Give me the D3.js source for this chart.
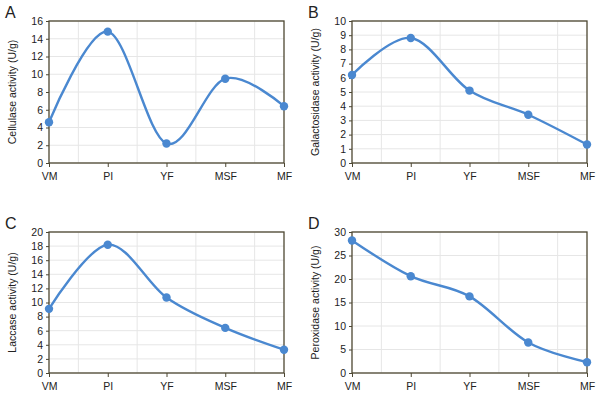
<!DOCTYPE html>
<html><head><meta charset="utf-8">
<script src="https://cdn.jsdelivr.net/npm/d3@7"></script>
<style>body{margin:0;background:#fff}svg{display:block}text{font-family:"Liberation Sans",Arial,sans-serif;fill:#222}</style>
</head><body>
<svg id="c" width="600" height="400"></svg>
<script>
const categories = ["VM","PI","YF","MSF","MF"];
const cellulase = [4.6,14.8,2.2,9.5,6.4];
const galactosidase = [6.2,8.8,5.1,3.4,1.3];
const laccase = [9.1,18.2,10.7,6.4,3.3];
const peroxidase = [28.2,20.6,16.3,6.5,2.3];
const ticksA = [0,2,4,6,8,10,12,14,16];
const ticksB = [0,1,2,3,4,5,6,7,8,9,10];
const ticksC = [0,2,4,6,8,10,12,14,16,18,20];
const ticksD = [0,5,10,15,20,25,30];

const panels = [
  {letter:"A", title:"Cellulase activity (U/g)", values:cellulase, ticks:ticksA, x0:49, x1:284, y0:21, y1:163},
  {letter:"B", title:"Galactosidase activity (U/g)", values:galactosidase, ticks:ticksB, x0:352, x1:587, y0:21, y1:163},
  {letter:"C", title:"Laccase activity (U/g)", values:laccase, ticks:ticksC, x0:49, x1:284, y0:232, y1:373},
  {letter:"D", title:"Peroxidase activity (U/g)", values:peroxidase, ticks:ticksD, x0:352, x1:587, y0:232, y1:373}
];
const svg = d3.select("#c");
const blue = "#4a88d0", border = "#4d4732", grid = "#e6e6e6";

panels.forEach(p => {
  const g = svg.append("g");
  const x = d3.scalePoint().domain(categories).range([p.x0, p.x1]).padding(0);
  const ymax = p.ticks[p.ticks.length-1];
  const y = d3.scaleLinear().domain([0, ymax]).range([p.y1, p.y0]);
  g.selectAll(".hg").data(p.ticks).join("line")
    .attr("x1", p.x0).attr("x2", p.x1).attr("y1", d=>y(d)).attr("y2", d=>y(d))
    .attr("stroke", grid).attr("stroke-width", 1);
  const step = x.step();
  g.selectAll(".vg").data(categories.slice(0,-1)).join("line")
    .attr("x1", d=>x(d)+step/2).attr("x2", d=>x(d)+step/2).attr("y1", p.y0).attr("y2", p.y1)
    .attr("stroke", grid).attr("stroke-width", 1);
  g.append("rect").attr("x", p.x0).attr("y", p.y0).attr("width", p.x1-p.x0).attr("height", p.y1-p.y0)
    .attr("fill","none").attr("stroke", border).attr("stroke-width", 1.3);
  const ya = g.append("g").attr("transform", `translate(${p.x0},0)`)
    .call(d3.axisLeft(y).tickValues(p.ticks).tickSize(3).tickPadding(3));
  ya.select(".domain").remove();
  ya.selectAll("line").attr("stroke", border);
  ya.selectAll("text").style("font-size","10.5px").attr("fill","#222");
  const xa = g.append("g").attr("transform", `translate(0,${p.y1})`)
    .call(d3.axisBottom(x).tickSize(4).tickPadding(6));
  xa.select(".domain").remove();
  xa.selectAll("line").attr("stroke", border);
  xa.selectAll("text").style("font-size","10.5px").attr("fill","#222");
  g.append("text").attr("transform", `translate(${p.x0-33},${(p.y0+p.y1)/2}) rotate(-90)`)
    .attr("text-anchor","middle").style("font-size","10.5px").text(p.title);
  g.append("text").attr("x", p.x0-44).attr("y", p.y0-3).style("font-size","16px").text(p.letter);
  const data = categories.map((c,i)=>({c, v:p.values[i]}));
  const line = d3.line().x(d=>x(d.c)).y(d=>y(d.v)).curve(d3.curveCardinal.tension(0));
  g.append("path").datum(data).attr("d", line).attr("fill","none").attr("stroke", blue).attr("stroke-width", 2.4);
  g.selectAll(".pt").data(data).join("circle").attr("cx", d=>x(d.c)).attr("cy", d=>y(d.v)).attr("r", 4.2).attr("fill", blue);
});
</script>
</body></html>
